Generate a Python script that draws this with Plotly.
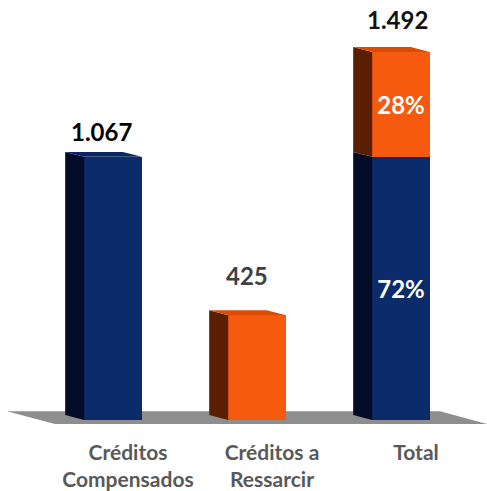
import plotly.graph_objects as go

# ---- data ----
categories = ["Créditos<br>Compensados", "Créditos a<br>Ressarcir", "Total"]
compensados = [1067, None, 1067]
ressarcir = [None, 425, 425]
totals = [1067, 425, 1492]

# ---- style ----
BLUE, BLUE_SIDE, BLUE_TOP = "#0c2b6b", "#030b29", "#0a2561"
ORANGE, ORANGE_SIDE, ORANGE_TOP = "#f55a0e", "#5a1e00", "#d84c08"
FONT = "Lato"
W = 0.4            # bar front width (x units)
DX, DY = 0.132, 20.1  # depth offset (x units, y units)
X0, X1 = -0.7847, 2.5972
Y0, Y1 = -16, 1703

xs = list(range(len(categories)))
share_c = [round(100 * c / t) if (c and i == 2) else None for i, (c, t) in enumerate(zip(compensados, totals))]
share_r = [round(100 * r / t) if (r and i == 2) else None for i, (r, t) in enumerate(zip(ressarcir, totals))]

fig = go.Figure()

# floor (decorative)
fig.add_shape(type="path", xref="x", yref="y", layer="below",
              path=f"M -0.736 36 L 2.271 36 L 2.597 {Y0} L -0.403 {Y0} Z",
              fillcolor="#8e8e8e", line=dict(width=0))


def side_top(x, y_lo, y_hi, side_col, top_col=None):
    xl = x - W / 2
    xr = x + W / 2
    fig.add_trace(go.Scatter(
        x=[xl, xl, xl - DX, xl - DX, xl], y=[y_lo, y_hi, y_hi + DY, y_lo + DY, y_lo],
        fill="toself", fillcolor=side_col, mode="lines", line=dict(width=0),
        hoverinfo="skip", showlegend=False))
    if top_col:
        fig.add_trace(go.Scatter(
            x=[xl, xr, xr - DX, xl - DX, xl], y=[y_hi, y_hi, y_hi + DY, y_hi + DY, y_hi],
            fill="toself", fillcolor=top_col, mode="lines", line=dict(width=0),
            hoverinfo="skip", showlegend=False))


for i in xs:
    c = compensados[i] or 0
    r = ressarcir[i] or 0
    if c:
        side_top(i, 0, c, BLUE_SIDE, None if r else BLUE_TOP)
    if r:
        side_top(i, c, c + r, ORANGE_SIDE, ORANGE_TOP)

fig.add_trace(go.Bar(
    x=xs, y=compensados, width=W, marker=dict(color=BLUE, line=dict(width=0)),
    text=[f"{s}%" if s is not None else "" for s in share_c],
    textposition="inside", insidetextanchor="middle", textangle=0,
    insidetextfont=dict(family=FONT, size=24, color="white", weight="bold"),
    showlegend=False, hoverinfo="skip"))
fig.add_trace(go.Bar(
    x=xs, y=ressarcir, width=W, marker=dict(color=ORANGE, line=dict(width=0)),
    text=[f"{s}%" if s is not None else "" for s in share_r],
    textposition="inside", insidetextanchor="middle", textangle=0,
    insidetextfont=dict(family=FONT, size=24, color="white", weight="bold"),
    showlegend=False, hoverinfo="skip"))

# value labels
label_colors = ["#000000", "#404040", "#111111"]
label_xshift = [-12, -10, -4]
label_yshift = [25, 40, 33]
for i, v in enumerate(totals):
    fig.add_annotation(x=i, y=v, xref="x", yref="y",
                       text=f"{v:,}".replace(",", "."), showarrow=False,
                       xanchor="center", yanchor="middle",
                       xshift=label_xshift[i], yshift=label_yshift[i],
                       font=dict(family=FONT, size=24, color=label_colors[i], weight="bold"))

fig.update_layout(
    width=487, height=491, barmode="stack", bargap=0,
    margin=dict(l=0, r=0, t=0, b=64),
    plot_bgcolor="white", paper_bgcolor="white",
    xaxis=dict(range=[X0, X1], tickvals=xs, ticktext=categories, showgrid=False,
               zeroline=False, showline=False, ticks="",
               tickfont=dict(family=FONT, size=21, color="#595959", weight="bold"),
               ticklabelshift=15, ticklabelstandoff=14),
    yaxis=dict(range=[Y0, Y1], visible=False, showgrid=False, zeroline=False),
)

fig.write_html("out.html", config={"displayModeBar": False},
               post_script="document.body.style.margin='0px';document.body.style.padding='0px';")
